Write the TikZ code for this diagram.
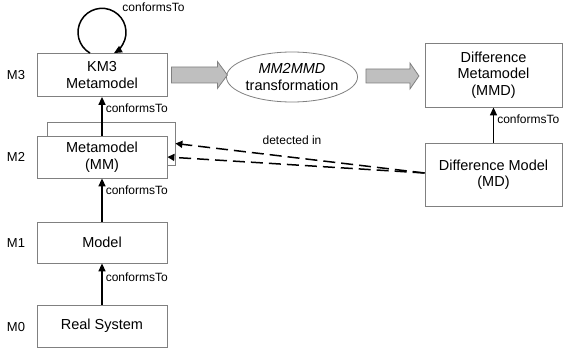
\documentclass[tikz,border=0pt]{standalone}
\usepackage{fontspec}
\setmainfont{Liberation Sans}
\usetikzlibrary{arrows.meta,calc,shapes.geometric}
\begin{document}
\begin{tikzpicture}[x=1pt,y=1pt,
  box/.style={draw=black!50,line width=0.8pt,fill=white,inner sep=0pt,align=center,
    font=\fontsize{14.5}{16.5}\selectfont},
  lvl/.style={font=\fontsize{13}{15}\selectfont},
  lab/.style={font=\fontsize{12}{14}\selectfont,inner sep=1pt},
  arr/.style={line width=1.5pt,-{Triangle[width=7pt,length=8pt]}},
  dsh/.style={line width=1.5pt,dash pattern=on 12pt off 6pt,-{Triangle[width=7pt,length=7pt]}},
  blk/.style={draw=black!50,line width=0.8pt,fill=black!25}]
\useasboundingbox (0,0) rectangle (564,354);
% nodes
\node[box,minimum width=130pt,minimum height=43pt] (km3) at (102,279) {KM3\\Metamodel};
\node[box,minimum width=128pt,minimum height=43pt] (mmback) at (111,210.5) {};
\node[box,minimum width=130pt,minimum height=42pt] (mm) at (102,197) {Metamodel\\(MM)};
\node[box,minimum width=130pt,minimum height=41pt] (model) at (102,111.5) {Model};
\node[box,minimum width=130pt,minimum height=42pt] (real) at (102,28) {Real System};
\node[box,minimum width=137pt,minimum height=64pt] (mmd) at (493.5,279) {Difference\\Metamodel\\(MMD)};
\node[box,minimum width=137pt,minimum height=63pt] (md) at (493.5,179.5) {Difference Model\\(MD)};
\node[box,ellipse,minimum width=126pt,minimum height=50pt] (tr) at (292,277) {\textit{MM2MMD}\\transformation};
% level labels
\node[lvl] (m3) at (16,279) {M3};
\node[lvl] (m2) at (16,197) {M2};
\node[lvl] (m1) at (16,111) {M1};
\node[lvl] (m0) at (16,27) {M0};
% conformsTo arrows
\draw[arr] ([xshift=-12pt]km3.north) arc[start angle=240,end angle=-60,radius=24pt];
\node[lab] (loopl) at (153.5,347) {conformsTo};
\draw[arr] (mm.north) -- node[lab,pos=0.7,anchor=west,xshift=2pt] {conformsTo} (km3.south);
\draw[arr] (model.north) -- node[lab,pos=0.73,anchor=west,xshift=2pt] {conformsTo} (mm.south);
\draw[arr] (real.north) -- node[lab,pos=0.67,anchor=west,xshift=2pt] {conformsTo} (model.south);
\draw[arr] (md.north) -- node[lab,pos=0.67,anchor=west,xshift=2pt] {conformsTo} (mmd.south);
% detected in
\draw[dsh] ([yshift=1.5pt]md.west) -- (mmback.east);
\draw[dsh] ([yshift=1.5pt]md.west) -- (mm.east);
\node[lab] (det) at (292,214) {detected in};
% block arrows
\draw[blk] ($(km3.east)+(4,-8)$) -- ++(46,0) -- ++(0,-5.5) -- ++(10,13.5) -- ++(-10,13.5) -- ++(0,-5.5) -- ++(-46,0) -- cycle;
\draw[blk] ($(tr.east)+(8,-6)$) -- ++(44,0) -- ++(0,-6) -- ++(9,13) -- ++(-9,13) -- ++(0,-6) -- ++(-44,0) -- cycle;
\end{tikzpicture}
\end{document}
